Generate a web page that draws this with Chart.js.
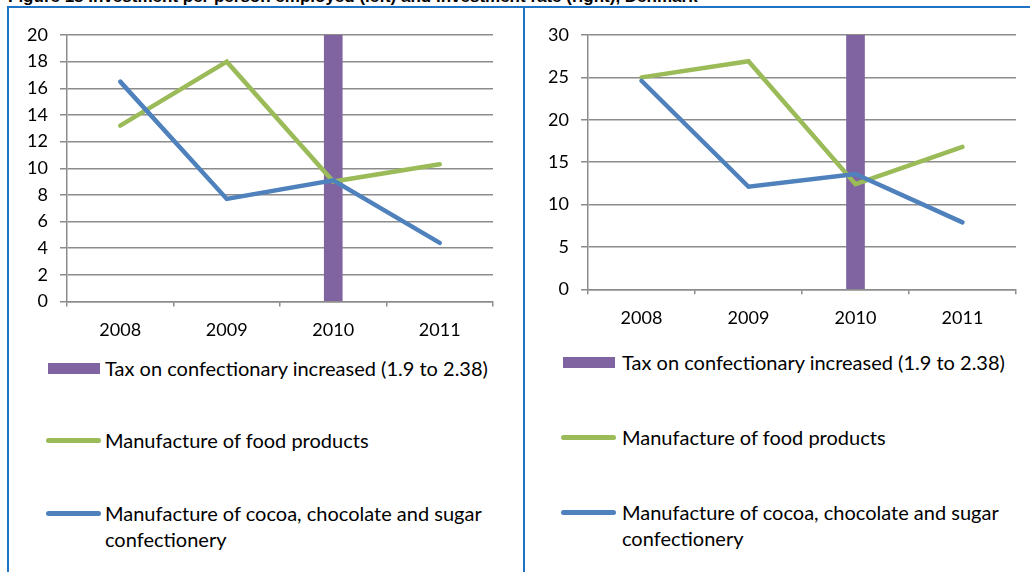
<!DOCTYPE html>
<html>
<head>
<meta charset="utf-8">
<script src="https://cdn.jsdelivr.net/npm/chart.js@4.4.0/dist/chart.umd.min.js"></script>
<style>
  html, body { margin: 0; padding: 0; background: #fff; }
  body { width: 1030px; height: 572px; position: relative; overflow: hidden; font-family: Lato, "Open Sans", sans-serif; color: #000; }
  .title { position: absolute; left: 8px; top: -13px; font: bold 17px "Liberation Sans", Arial, sans-serif; line-height: 20px; white-space: nowrap; }
  .rule { position: absolute; background: #1f73c4; }
  .panel { position: absolute; top: 0; height: 572px; }
  .panel canvas { position: absolute; left: 0; top: 0; }
  .item { position: absolute; font-size: 20px; line-height: 26px; }
  .item .mark { position: absolute; }
  .item .txt { position: absolute; width: 405px; }
</style>
</head>
<body>
<div class="title">Figure 18 Investment per person employed (left) and investment rate (right), Denmark</div>
<div class="rule" style="left:7px; top:6px; width:1023px; height:2px;"></div>
<div class="rule" style="left:7px; top:6px; width:2px; height:566px;"></div>
<div class="rule" style="left:523px; top:6px; width:2px; height:566px;"></div>

<div class="panel" id="panelLeft" style="left:0; width:520px;"><canvas id="chartLeft"></canvas></div>
<div class="panel" id="panelRight" style="left:525px; width:505px;"><canvas id="chartRight"></canvas></div>

<script>
const years = ['2008', '2009', '2010', '2011'];
const seriesNames = [
  'Tax on confectionary increased (1.9 to 2.38)',
  'Manufacture of food products',
  'Manufacture of cocoa, chocolate and sugar confectionery'
];

// investment per person employed
const taxLeft = [null, null, 20, null];
const foodLeft = [13.2, 18.0, 9.0, 10.3];
const cocoaLeft = [16.5, 7.7, 9.1, 4.4];

// investment rate
const taxRight = [null, null, 30, null];
const foodRight = [25.0, 26.9, 12.4, 16.8];
const cocoaRight = [24.6, 12.1, 13.6, 7.9];

const PURPLE = '#8064a2';
const GREEN = '#9bbb59';
const BLUE = '#4f81bd';
const GRID = '#8c8c8c';

function buildChart(canvasId, tax, food, cocoa, yMax, yStep, box) {
  const canvas = document.getElementById(canvasId);
  canvas.width = box.w;
  canvas.height = box.h;
  canvas.style.width = box.w + 'px';
  canvas.style.height = box.h + 'px';

  return new Chart(canvas, {
    data: {
      labels: years,
      datasets: [
        { type: 'bar', label: seriesNames[0], data: tax, backgroundColor: PURPLE, barThickness: 18, order: 2 },
        { type: 'line', label: seriesNames[1], data: food, borderColor: GREEN, backgroundColor: GREEN,
          borderWidth: 4.5, pointRadius: 0, borderCapStyle: 'round', tension: 0, order: 1 },
        { type: 'line', label: seriesNames[2], data: cocoa, borderColor: BLUE, backgroundColor: BLUE,
          borderWidth: 4.5, pointRadius: 0, borderCapStyle: 'round', tension: 0, order: 0 }
      ]
    },
    options: {
      responsive: false,
      animation: false,
      devicePixelRatio: 1,
      layout: { padding: { left: 0, right: box.padRight, top: box.padTop, bottom: 0 } },
      plugins: { legend: { display: false }, tooltip: { enabled: false } },
      scales: {
        x: {
          offset: true,
          grid: { offset: true, drawOnChartArea: false, drawTicks: true, tickLength: 5, color: GRID, lineWidth: 1.5 },
          border: { display: true, color: GRID, width: 1.5 },
          ticks: { color: '#000', font: { family: 'Lato', size: 18 }, padding: 13, maxRotation: 0 },
          afterFit: (scale) => { scale.height = box.xAxisH; }
        },
        y: {
          min: 0,
          max: yMax,
          grid: { color: GRID, lineWidth: 1.5, tickLength: 7 },
          border: { display: true, color: GRID, width: 1.5 },
          ticks: { stepSize: yStep, color: '#000', font: { family: 'Lato', size: 18 }, padding: 12 },
          afterFit: (scale) => { scale.width = box.yAxisW; }
        }
      }
    }
  });
}

// legend drawn as html under each plot, built from the chart's own datasets
function buildLegend(panelId, chart, spot) {
  const panel = document.getElementById(panelId);
  chart.data.datasets.forEach((ds, i) => {
    const item = document.createElement('div');
    item.className = 'item';
    item.style.left = '0px';
    item.style.top = (spot.rows[i] - 13) + 'px';

    const mark = document.createElement('div');
    mark.className = 'mark';
    if (ds.type === 'bar') {
      mark.style.left = (spot.markX + 2) + 'px';
      mark.style.top = '8px';
      mark.style.width = '52px';
      mark.style.height = '11px';
      mark.style.background = ds.backgroundColor;
    } else {
      mark.style.left = spot.markX + 'px';
      mark.style.top = '11px';
      mark.style.width = '55px';
      mark.style.height = '4.5px';
      mark.style.borderRadius = '3px';
      mark.style.background = ds.borderColor;
    }
    item.appendChild(mark);

    const txt = document.createElement('div');
    txt.className = 'txt';
    txt.style.left = spot.textX + 'px';
    txt.textContent = ds.label;
    item.appendChild(txt);

    panel.appendChild(item);
  });
}

const left = buildChart('chartLeft', taxLeft, foodLeft, cocoaLeft, 20, 2,
  { w: 520, h: 345, padRight: 27, padTop: 35, yAxisW: 67, xAxisH: 43.5 });
const right = buildChart('chartRight', taxRight, foodRight, cocoaRight, 30, 5,
  { w: 505, h: 345, padRight: 14, padTop: 35, yAxisW: 63, xAxisH: 55.7 });

buildLegend('panelLeft', left, { markX: 46, textX: 105, rows: [368, 440, 513] });
buildLegend('panelRight', right, { markX: 36, textX: 97, rows: [362, 437, 512] });
</script>
</body>
</html>
